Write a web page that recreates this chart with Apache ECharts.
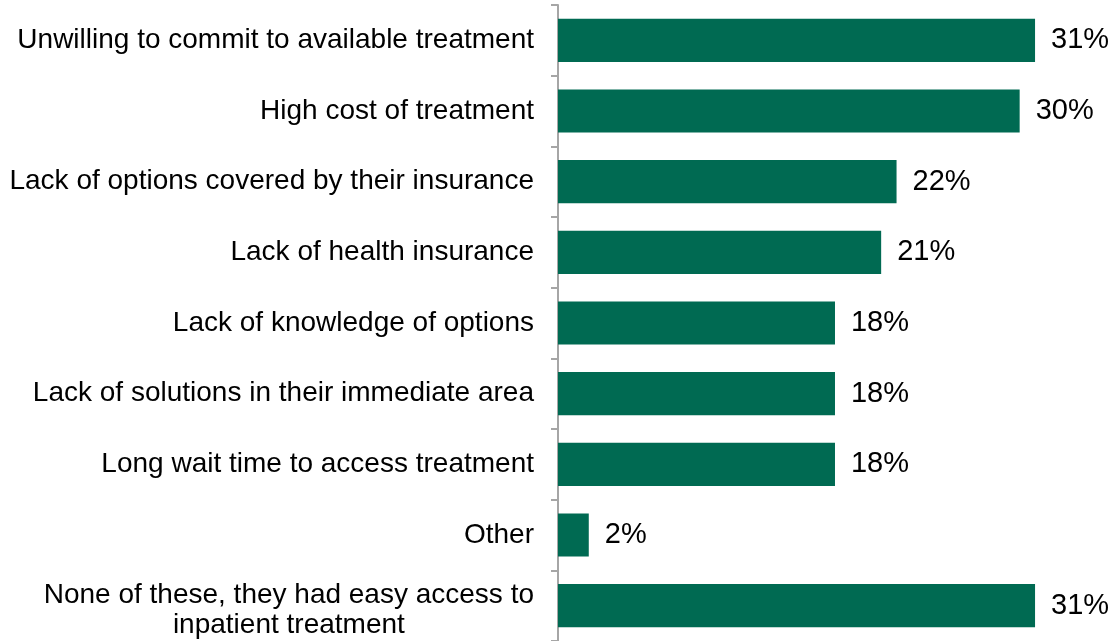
<!DOCTYPE html>
<html>
<head>
<meta charset="utf-8">
<script src="https://cdn.jsdelivr.net/npm/echarts@6/dist/echarts.min.js"></script>
<style>
html,body{margin:0;padding:0;background:#fff;}
#chart{width:1117px;height:641px;}
</style>
</head>
<body>
<div id="chart"></div>
<script>
var categories = [
  "Unwilling to commit to available treatment",
  "High cost of treatment",
  "Lack of options covered by their insurance",
  "Lack of health insurance",
  "Lack of knowledge of options",
  "Lack of solutions in their immediate area",
  "Long wait time to access treatment",
  "Other",
  "None of these, they had easy access to\ninpatient treatment"
];
var values = [31, 30, 22, 21, 18, 18, 18, 2, 31];

var FONT = 'Liberation Sans, Arial, sans-serif';
var FS = 28;
var FSV = 29;
var axisData = categories.map(function (c) {
  return c.indexOf('\n') >= 0 ? {value: c, textStyle: {padding: [10, 0, 0, 0]}} : c;
});
var chart = echarts.init(document.getElementById('chart'), null, {renderer: 'canvas'});
chart.setOption({
  animation: false,
  backgroundColor: '#ffffff',
  textStyle: {fontFamily: FONT},
  grid: {left: 558, top: 5, bottom: 0, width: 538.6, containLabel: false},
  xAxis: {type: 'value', min: 0, max: 35, show: false},
  yAxis: {
    type: 'category',
    inverse: true,
    data: axisData,
    axisLine: {show: true, lineStyle: {color: '#a6a6a6', width: 2}},
    axisTick: {show: true, length: 7, lineStyle: {color: '#a6a6a6', width: 2}},
    axisLabel: {
      margin: 24,
      color: '#000000',
      fontSize: FS,
      fontFamily: FONT,
      formatter: function (v) {
        var lines = v.split('\n');
        return lines.map(function (l) { return '{c|' + l + '}'; }).join('\n');
      },
      rich: {
        c: {align: 'center', fontSize: FS, color: '#000000', lineHeight: 30, fontFamily: FONT}
      }
    }
  },
  series: [{
    type: 'bar',
    data: values,
    barCategoryGap: '39%',
    itemStyle: {color: '#006A52'},
    label: {
      show: true,
      position: 'right',
      distance: 16,
      formatter: '{c}%',
      color: '#000000',
      fontSize: FSV,
      fontFamily: FONT
    }
  }]
});
</script>
</body>
</html>
